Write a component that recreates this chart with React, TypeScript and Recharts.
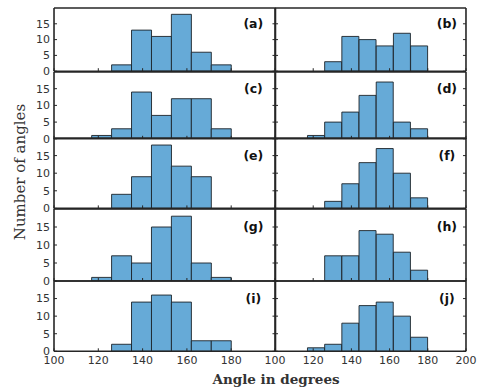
import React from "react";
import { BarChart, Bar, XAxis, YAxis, ReferenceDot } from "recharts";

// 9-degree bins from 117 to 180 degrees
const binCenters = [121.5, 130.5, 139.5, 148.5, 157.5, 166.5, 175.5];

const countsA = [0, 2, 13, 11, 18, 6, 2];
const countsB = [0, 3, 11, 10, 8, 12, 8];
const countsC = [1, 3, 14, 7, 12, 12, 3];
const countsD = [1, 5, 8, 13, 17, 5, 3];
const countsE = [0, 4, 9, 18, 12, 9, 0];
const countsF = [0, 2, 7, 13, 17, 10, 3];
const countsG = [1, 7, 5, 15, 18, 5, 1];
const countsH = [0, 7, 7, 14, 13, 8, 3];
const countsI = [0, 2, 14, 16, 14, 3, 3];
const countsJ = [1, 2, 8, 13, 14, 10, 4];

const panelCounts = [countsA, countsB, countsC, countsD, countsE, countsF, countsG, countsH, countsI, countsJ];
const panelTags = ["(a)", "(b)", "(c)", "(d)", "(e)", "(f)", "(g)", "(h)", "(i)", "(j)"];

const xTicks = [100, 120, 140, 160, 180, 200];
const yTicks = [0, 5, 10, 15];

// plot-area geometry of the 5x2 grid
const colLeft = [54, 275];
const colWidth = [221.5, 191];
const rowTop = [8.3, 71.5, 138.3, 208.7, 280.7, 351];

const AXIS = "#262626";
const FILL = "#66aad7";
const tickFont = { fontFamily: "DejaVu Sans", fontSize: 11, fill: "#333" };
const lineStyle = { stroke: AXIS, strokeWidth: 1.6 };
const tickStyle = { stroke: AXIS, strokeWidth: 1 };

type PanelProps = {
  counts: number[];
  tag: string;
  col: number;
  row: number;
};

function Panel({ counts, tag, col, row }: PanelProps) {
  const data = binCenters.map((mid, i) => ({ mid, n: counts[i] }));
  const showY = col === 0;
  const showX = row === 4;
  // axes need a non-zero band or they are not drawn
  const leftW = showY ? 40 : 1;
  const rightW = 1;
  const topH = 1;
  const bottomH = showX ? 22 : 1;
  const top = rowTop[row];
  const ph = rowTop[row + 1] - top;
  const pw = colWidth[col];

  const fmtX = (v: number) => (showX && !(col === 0 && v === 200) ? String(v) : "");
  const fmtY = (v: number) => (showY ? String(v) : "");

  return (
    <div style={{ position: "absolute", left: colLeft[col] - leftW, top: top - topH }}>
      <BarChart
        width={leftW + pw + rightW}
        height={topH + ph + bottomH}
        data={data}
        margin={{ top: 0, right: 0, bottom: 0, left: 0 }}
        barCategoryGap={0}
        barGap={0}
      >
        <XAxis
          xAxisId="b"
          type="number"
          dataKey="mid"
          domain={[100, 200]}
          allowDataOverflow
          ticks={xTicks}
          interval={0}
          height={bottomH}
          tickSize={-3}
          tickMargin={8}
          tickFormatter={fmtX}
          tick={tickFont}
          axisLine={lineStyle}
          tickLine={tickStyle}
        />
        <XAxis
          xAxisId="t"
          orientation="top"
          type="number"
          domain={[100, 200]}
          allowDataOverflow
          ticks={xTicks}
          interval={0}
          height={topH}
          tickSize={-3}
          tickFormatter={() => ""}
          axisLine={lineStyle}
          tickLine={tickStyle}
        />
        <YAxis
          yAxisId="l"
          type="number"
          domain={[0, 20]}
          allowDataOverflow
          ticks={yTicks}
          interval={0}
          width={leftW}
          tickSize={-3}
          tickMargin={7}
          tickFormatter={fmtY}
          tick={tickFont}
          axisLine={lineStyle}
          tickLine={tickStyle}
        />
        <YAxis
          yAxisId="r"
          orientation="right"
          type="number"
          domain={[0, 20]}
          allowDataOverflow
          ticks={yTicks}
          interval={0}
          width={rightW}
          tickSize={-3}
          tickFormatter={() => ""}
          axisLine={lineStyle}
          tickLine={tickStyle}
        />
        <Bar
          xAxisId="b"
          yAxisId="l"
          dataKey="n"
          fill={FILL}
          stroke="#1c2328"
          strokeWidth={0.9}
          isAnimationActive={false}
        />
        <ReferenceDot
          xAxisId="b"
          yAxisId="l"
          x={190}
          y={15}
          r={0}
          fill="none"
          stroke="none"
          label={{
            value: tag,
            position: "center",
            fontFamily: "DejaVu Sans",
            fontSize: 12.5,
            fontWeight: "bold",
            fill: "#111",
          }}
        />
      </BarChart>
    </div>
  );
}

export default function App() {
  return (
    <div
      style={{
        position: "absolute",
        left: 0,
        top: 0,
        width: 487,
        height: 392,
        background: "#fff",
        overflow: "hidden",
      }}
    >
      <style>{`.recharts-surface { overflow: visible; }`}</style>
      {panelCounts.map((counts, i) => (
        <Panel key={panelTags[i]} counts={counts} tag={panelTags[i]} col={i % 2} row={Math.floor(i / 2)} />
      ))}
      <div
        style={{
          position: "absolute",
          left: 20,
          top: 172,
          transform: "translate(-50%, -50%) rotate(-90deg)",
          whiteSpace: "nowrap",
          fontFamily: "DejaVu Serif",
          fontSize: 15,
          color: "#333",
        }}
      >
        Number of angles
      </div>
      <div
        style={{
          position: "absolute",
          left: 276,
          top: 379,
          transform: "translate(-50%, -50%)",
          whiteSpace: "nowrap",
          fontFamily: "DejaVu Serif",
          fontSize: 13.5,
          fontWeight: "bold",
          color: "#333",
        }}
      >
        Angle in degrees
      </div>
    </div>
  );
}
